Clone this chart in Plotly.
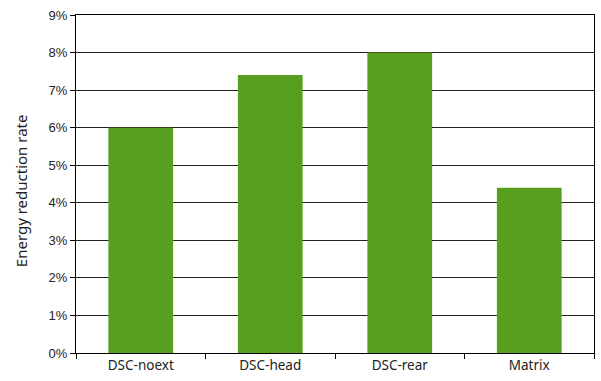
import plotly.graph_objects as go

categories = ["DSC-noext", "DSC-head", "DSC-rear", "Matrix"]
reduction_rate = [0.060, 0.074, 0.080, 0.044]
y_ticks = [0, 0.01, 0.02, 0.03, 0.04, 0.05, 0.06, 0.07, 0.08, 0.09]

fig = go.Figure(
    go.Bar(
        x=categories,
        y=reduction_rate,
        marker=dict(color="#589E1F", line=dict(width=0)),
    )
)

fig.update_layout(
    width=601,
    height=381,
    margin=dict(l=76, r=7, t=15, b=28),
    paper_bgcolor="white",
    plot_bgcolor="white",
    bargap=0.5,
    showlegend=False,
    font=dict(family="Liberation Sans, Arial, sans-serif", color="#222"),
)

fig.update_xaxes(
    type="category",
    showline=True,
    linecolor="black",
    linewidth=1,
    mirror=True,
    ticks="outside",
    tickson="boundaries",
    ticklen=5,
    tickcolor="black",
    tickfont=dict(family="Noto Sans", size=13.5, color="#222"),
    showgrid=False,
)

fig.update_yaxes(
    range=[0, 0.09],
    tickvals=y_ticks,
    tickformat=".0%",
    showline=True,
    linecolor="black",
    linewidth=1,
    mirror=True,
    ticks="outside",
    ticklen=5,
    tickcolor="black",
    showgrid=True,
    gridcolor="#222",
    gridwidth=1,
    tickfont=dict(size=13, color="#222"),
    zeroline=False,
)

# Y-axis title placed as a rotated annotation for finer positioning
fig.add_annotation(
    text="Energy reduction rate",
    textangle=-90,
    xref="paper",
    yref="paper",
    x=-0.106,
    y=0.479,
    xanchor="center",
    yanchor="middle",
    showarrow=False,
    font=dict(family="Noto Sans", size=15, color="#222"),
)

fig.write_html("out.html")
